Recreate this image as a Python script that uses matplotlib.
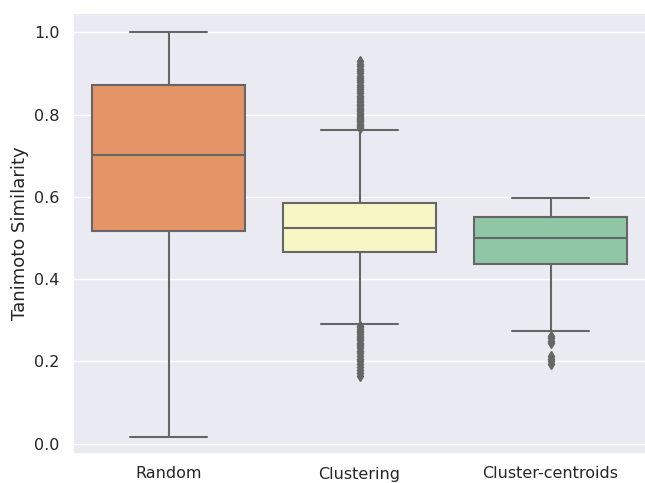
import matplotlib
matplotlib.use("Agg")
import matplotlib.pyplot as plt
import seaborn as sns

# box statistics
groups = ["Random", "Clustering", "Cluster-centroids"]
q1 = [0.518, 0.465, 0.438]
med = [0.702, 0.525, 0.501]
q3 = [0.872, 0.584, 0.552]
whislo = [0.016, 0.291, 0.274]
whishi = [1.0, 0.763, 0.598]

fliers_random = []
fliers_clustering = [0.767, 0.770, 0.772, 0.775, 0.778, 0.781, 0.784, 0.786, 0.789,
                     0.792, 0.795, 0.799, 0.802, 0.805, 0.808, 0.811, 0.814, 0.817,
                     0.820, 0.824, 0.827, 0.830, 0.834, 0.838, 0.842, 0.846,
                     0.852, 0.857, 0.863, 0.868, 0.873, 0.879, 0.884, 0.889, 0.894,
                     0.900, 0.906, 0.911, 0.917, 0.923, 0.930,
                     0.287, 0.283, 0.279, 0.275, 0.271, 0.267, 0.263, 0.259, 0.255,
                     0.251, 0.246, 0.242, 0.237, 0.232, 0.226, 0.220, 0.214, 0.207,
                     0.201, 0.194, 0.187, 0.180, 0.172, 0.164]
fliers_centroids = [0.263, 0.257, 0.250, 0.244, 0.214, 0.207, 0.200, 0.193]
fliers = [fliers_random, fliers_clustering, fliers_centroids]

sns.set_theme(style="darkgrid")

pal = sns.color_palette("Spectral", 3)
colors = [sns.desaturate(c, 0.75) for c in pal]
gray = (0.4, 0.4, 0.4)

stats = []
for i in range(3):
    stats.append(dict(label=groups[i], q1=q1[i], med=med[i], q3=q3[i],
                      whislo=whislo[i], whishi=whishi[i], fliers=fliers[i]))

fig = plt.figure(figsize=(6.45, 4.83), dpi=100)
ax = fig.add_axes([73 / 645, 29 / 483, 573 / 645, 441 / 483])

bp = ax.bxp(stats, positions=[0, 1, 2], widths=0.8, patch_artist=True,
            boxprops=dict(edgecolor=gray, linewidth=1.5),
            whiskerprops=dict(color=gray, linewidth=1.5),
            capprops=dict(color=gray, linewidth=1.5),
            medianprops=dict(color=gray, linewidth=1.5),
            flierprops=dict(marker="d", markersize=5, markerfacecolor=gray,
                            markeredgecolor=gray))
for patch, c in zip(bp["boxes"], colors):
    patch.set_facecolor(c)

ax.grid(axis="x", visible=False)
ax.set_xlim(-0.5, 2.5)
ax.set_ylim(-0.025, 1.047)
ax.set_xticks([0, 1, 2])
ax.set_xticklabels(groups, fontsize=11.5)
ax.tick_params(axis="x", pad=3)
ax.set_yticks([0.0, 0.2, 0.4, 0.6, 0.8, 1.0])
ax.set_yticklabels(["0.0", "0.2", "0.4", "0.6", "0.8", "1.0"], fontsize=11.5)
ax.set_ylabel("Tanimoto Similarity", fontsize=13)

fig.savefig("out.png", dpi=100)
